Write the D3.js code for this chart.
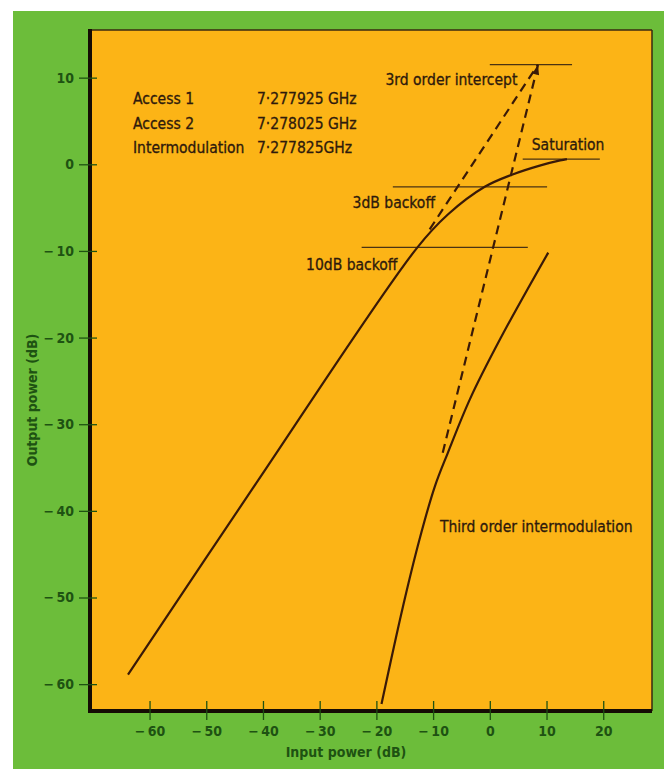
<!DOCTYPE html>
<html>
<head>
<meta charset="utf-8">
<script src="https://cdn.jsdelivr.net/npm/d3@7"></script>
<style>
  html, body { margin: 0; padding: 0; background: #ffffff; }
  svg { display: block; }
  text { font-family: 'DejaVu Sans Condensed', 'DejaVu Sans', sans-serif; font-stretch: condensed; }
</style>
</head>
<body>
<svg id="chart" width="664" height="769"></svg>
<script>
// ---------------- data ----------------
const xTicks = [-60, -50, -40, -30, -20, -10, 0, 10, 20];
const yTicks = [10, 0, -10, -20, -30, -40, -50, -60];

// Fundamental (single carrier) output vs input, dB
const fundIn  = [-63.8, -41.9, -12.9, -7.4, -0.9, 3.9, 8.8, 12.4, 13.6];
const fundOut = [-58.9, -37.5,  -9.7, -5.8, -2.6, -1.2, -0.15, 0.45, 0.6];

// Third order intermodulation output vs input, dB
const im3In  = [-19.1, -15.3, -12.4, -9.7, -7.4, -3.5, 1.8, 10.3];
const im3Out = [-62.3, -51.0, -43.3, -37.2, -33.3, -27.1, -20.2, -10.2];

// Extrapolations to the third order intercept (dashed)
const interceptIn = 8.5, interceptOut = 11.5;
const fundExtrapIn = [-10.6, interceptIn], fundExtrapOut = [-7.5, interceptOut];
const im3ExtrapIn  = [-8.3, interceptIn],  im3ExtrapOut  = [-33.3, interceptOut];

// Reference levels (horizontal lines)
const refNames = ["3rd order intercept", "Saturation", "3dB backoff", "10dB backoff"];
const refLevel = [11.5, 0.6, -2.6, -9.6];
const refFrom  = [0, 5.8, -17.1, -22.6];
const refTo    = [14.5, 19.4, 10.1, 6.7];
const refLabelIn  = [-18.4, 7.4, -24.2, -32.4];
const refLabelOut = [9.1, 1.6, -5.0, -12.2];

const curveLabel = "Third order intermodulation";
const curveLabelIn = -8.8, curveLabelOut = -42.4;

const legendNames  = ["Access 1", "Access 2", "Intermodulation"];
const legendValues = ["7·277925 GHz", "7·278025 GHz", "7·277825GHz"];

const xTitle = "Input power (dB)";
const yTitle = "Output power (dB)";

// ---------------- layout ----------------
const W = 664, H = 769;
const plot = { left: 90, right: 652, top: 30, bottom: 711 };
const GREEN = "#6cbd3a", ORANGE = "#fcb416", INK = "#2e1a0c", TICKINK = "#1e5212";
const FS = 15.5;

const svg = d3.select("#chart");
svg.append("rect").attr("x", 0).attr("y", 0).attr("width", W).attr("height", H).attr("fill", "#ffffff");
svg.append("rect").attr("x", 13).attr("y", 11).attr("width", W - 13).attr("height", H - 11).attr("fill", GREEN);

const x = d3.scaleLinear().domain([-70.5, 28.6]).range([plot.left, plot.right]);
const y = d3.scaleLinear().domain([-63.1, 15.5]).range([plot.bottom, plot.top]);

// plot panel
svg.append("rect")
  .attr("x", plot.left).attr("y", plot.top)
  .attr("width", plot.right - plot.left).attr("height", plot.bottom - plot.top)
  .attr("fill", ORANGE);

// thin top / right borders
svg.append("line").attr("x1", plot.left).attr("x2", plot.right).attr("y1", plot.top).attr("y2", plot.top)
  .attr("stroke", "#3a2a10").attr("stroke-width", 1.5);
svg.append("line").attr("x1", plot.right).attr("x2", plot.right).attr("y1", plot.top).attr("y2", plot.bottom)
  .attr("stroke", "#3a2a10").attr("stroke-width", 1.5);
// thick left / bottom borders
svg.append("line").attr("x1", plot.left).attr("x2", plot.left).attr("y1", plot.top - 1).attr("y2", plot.bottom + 2)
  .attr("stroke", "#150c04").attr("stroke-width", 4);
svg.append("line").attr("x1", plot.left - 2).attr("x2", plot.right).attr("y1", plot.bottom).attr("y2", plot.bottom)
  .attr("stroke", "#150c04").attr("stroke-width", 4);

const fmt = d => d < 0 ? "\u2212\u2009" + (-d) : String(d);

// Y axis (ticks crossing the border)
const yAxis = svg.append("g")
  .attr("transform", `translate(${plot.left + 7},0)`)
  .call(d3.axisLeft(y).tickValues(yTicks).tickFormat(fmt).tickSize(18).tickPadding(5));
yAxis.select(".domain").remove();
yAxis.selectAll(".tick line").attr("stroke", TICKINK).attr("stroke-width", 1.3);
yAxis.selectAll(".tick text").attr("fill", TICKINK).attr("font-size", 14).attr("font-weight", "bold");

// X axis
const xAxis = svg.append("g")
  .attr("transform", `translate(0,${plot.bottom - 10})`)
  .call(d3.axisBottom(x).tickValues(xTicks).tickFormat(fmt).tickSize(19).tickPadding(6));
xAxis.select(".domain").remove();
xAxis.selectAll(".tick line").attr("stroke", TICKINK).attr("stroke-width", 1.3);
xAxis.selectAll(".tick text").attr("fill", TICKINK).attr("font-size", 14).attr("font-weight", "bold");

// axis titles
svg.append("text").attr("x", 346).attr("y", 757).attr("text-anchor", "middle")
  .attr("fill", TICKINK).attr("font-size", 14).attr("font-weight", "bold").text(xTitle);
svg.append("text").attr("transform", "translate(37,400) rotate(-90)").attr("text-anchor", "middle")
  .attr("fill", TICKINK).attr("font-size", 14).attr("font-weight", "bold").text(yTitle);

function label(sel) {
  return sel.attr("fill", INK).attr("stroke", INK).attr("stroke-width", 0.3).attr("font-size", FS);
}

// reference level lines
refLevel.forEach((v, i) => {
  svg.append("line")
    .attr("x1", x(refFrom[i])).attr("x2", x(refTo[i]))
    .attr("y1", y(v)).attr("y2", y(v))
    .attr("stroke", "#4a3212").attr("stroke-width", 1.2);
  label(svg.append("text")
    .attr("x", x(refLabelIn[i])).attr("y", y(refLabelOut[i]))).text(refNames[i]);
});

// curves
const smooth = d3.line().x(d => x(d[0])).y(d => y(d[1])).curve(d3.curveCatmullRom.alpha(0.5));
const fundData = fundIn.map((v, i) => [v, fundOut[i]]);
const im3Data = im3In.map((v, i) => [v, im3Out[i]]);

svg.append("path").datum(fundData)
  .attr("d", smooth)
  .attr("fill", "none").attr("stroke", "#3a1a08").attr("stroke-width", 2.2);
svg.append("path").datum(im3Data)
  .attr("d", smooth)
  .attr("fill", "none").attr("stroke", "#3a1a08").attr("stroke-width", 2.2);

// dashed extrapolations
const straight = d3.line().x(d => x(d[0])).y(d => y(d[1]));
[[fundExtrapIn, fundExtrapOut], [im3ExtrapIn, im3ExtrapOut]].forEach(([xs, ys]) => {
  svg.append("path").datum(xs.map((v, i) => [v, ys[i]]))
    .attr("d", straight)
    .attr("fill", "none").attr("stroke", "#3a1a08").attr("stroke-width", 2.2)
    .attr("stroke-dasharray", "9,6");
});

// arrow head at intercept
const tipX = x(interceptIn), tipY = y(interceptOut);
const ang = Math.atan2(y(im3ExtrapOut[0]) - tipY, x(im3ExtrapIn[0]) - tipX);
const L = 10, Wd = 3.5;
const bx = tipX + L * Math.cos(ang), by = tipY + L * Math.sin(ang);
const px = -Math.sin(ang) * Wd, py = Math.cos(ang) * Wd;
svg.append("path")
  .attr("d", `M${tipX},${tipY}L${bx + px},${by + py}L${bx - px},${by - py}Z`)
  .attr("fill", "#3a1a08");

// curve label
label(svg.append("text").attr("x", x(curveLabelIn)).attr("y", y(curveLabelOut))).text(curveLabel);

// legend block
legendNames.forEach((n, i) => {
  label(svg.append("text").attr("x", 133).attr("y", 104 + i * 24.5)).text(n);
  label(svg.append("text").attr("x", 257).attr("y", 104 + i * 24.5)).text(legendValues[i]);
});
</script>
</body>
</html>
